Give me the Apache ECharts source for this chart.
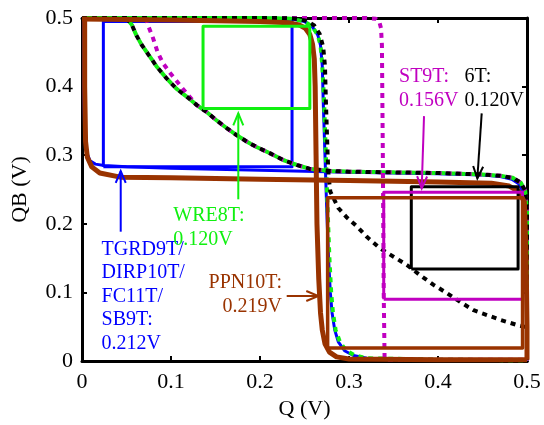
<!DOCTYPE html>
<html>
<head>
<meta charset="utf-8">
<script src="https://cdn.jsdelivr.net/npm/echarts@6/dist/echarts.min.js"></script>
<style>
  html, body { margin: 0; padding: 0; background: #fff; }
  #chart { width: 544px; height: 425px; }
</style>
</head>
<body>
<div id="chart"></div>
<script>
// Axis ticks (volts)
const qTicks = [0, 0.1, 0.2, 0.3, 0.4, 0.5];
const qbTicks = [0, 0.1, 0.2, 0.3, 0.4, 0.5];

// Cell names and their static noise margins (V)
const cellLabels = ['TGRD9T/\nDIRP10T/\nFC11T/\nSB9T:', 'WRE8T:', 'PPN10T:', 'ST9T:', '6T:'];
const snmValues = [0.212, 0.120, 0.219, 0.156, 0.120];
// lower-left corner [Q, QB] of each SNM square
const snmCorners = [[0.024, 0.283], [0.136, 0.368], [0.276, 0.019], [0.339, 0.090], [0.370, 0.134]];

// TGRD9T / DIRP10T / FC11T / SB9T butterfly
const tgrdA = [[0, 0.5], [0.2, 0.5], [0.235, 0.499], [0.25, 0.495], [0.259, 0.487], [0.265, 0.475], [0.268, 0.46], [0.27, 0.43], [0.271, 0.38], [0.273, 0.3], [0.275, 0.22], [0.277, 0.15], [0.279, 0.1], [0.281, 0.07], [0.284, 0.045], [0.288, 0.028], [0.295, 0.015], [0.305, 0.008], [0.32, 0.004], [0.4, 0.002], [0.5, 0.001]];
const tgrdB = [[0.002, 0.5], [0.002, 0.4], [0.003, 0.33], [0.005, 0.305], [0.009, 0.292], [0.015, 0.287], [0.025, 0.285], [0.05, 0.283], [0.1, 0.281], [0.2, 0.278], [0.3, 0.275], [0.4, 0.273], [0.45, 0.271], [0.47, 0.269], [0.483, 0.265], [0.491, 0.258], [0.496, 0.245], [0.498, 0.22], [0.499, 0.15], [0.5, 0.05], [0.5, 0]];

// WRE8T butterfly
const wreA = [[0, 0.5], [0.2, 0.5], [0.235, 0.499], [0.25, 0.495], [0.259, 0.487], [0.265, 0.475], [0.268, 0.46], [0.27, 0.43], [0.272, 0.38], [0.274, 0.3], [0.276, 0.22], [0.278, 0.15], [0.28, 0.1], [0.282, 0.07], [0.285, 0.045], [0.29, 0.027], [0.297, 0.015], [0.307, 0.008], [0.32, 0.004], [0.4, 0.002], [0.5, 0.001]];
const wreB = [[0.05, 0.5], [0.056, 0.49], [0.061, 0.475], [0.067, 0.461], [0.075, 0.446], [0.084, 0.429], [0.095, 0.412], [0.106, 0.397], [0.118, 0.385], [0.129, 0.373], [0.14, 0.363], [0.151, 0.351], [0.163, 0.339], [0.174, 0.329], [0.185, 0.32], [0.196, 0.312], [0.211, 0.303], [0.226, 0.293], [0.241, 0.286], [0.256, 0.28], [0.28, 0.277], [0.3, 0.276], [0.35, 0.275], [0.4, 0.274], [0.45, 0.272], [0.47, 0.27], [0.484, 0.267], [0.493, 0.26], [0.498, 0.248], [0.5, 0.22], [0.5, 0]];

// 6T butterfly
const sixA = [[0, 0.5], [0.22, 0.5], [0.24, 0.499], [0.252, 0.496], [0.261, 0.489], [0.267, 0.477], [0.271, 0.458], [0.273, 0.43], [0.274, 0.38], [0.276, 0.3], [0.277, 0.27], [0.279, 0.247], [0.288, 0.223], [0.297, 0.21], [0.309, 0.196], [0.32, 0.181], [0.335, 0.164], [0.35, 0.152], [0.365, 0.14], [0.38, 0.125], [0.395, 0.111], [0.41, 0.099], [0.425, 0.086], [0.44, 0.074], [0.455, 0.067], [0.47, 0.06], [0.49, 0.052], [0.5, 0.049]];
const sixB = [[0.05, 0.5], [0.056, 0.49], [0.061, 0.475], [0.067, 0.461], [0.075, 0.446], [0.084, 0.429], [0.095, 0.412], [0.106, 0.397], [0.118, 0.385], [0.129, 0.373], [0.14, 0.363], [0.151, 0.351], [0.163, 0.339], [0.174, 0.329], [0.185, 0.32], [0.196, 0.312], [0.211, 0.303], [0.226, 0.293], [0.241, 0.286], [0.256, 0.28], [0.28, 0.277], [0.3, 0.276], [0.35, 0.275], [0.4, 0.274], [0.45, 0.272], [0.47, 0.27], [0.484, 0.267], [0.493, 0.26], [0.498, 0.248], [0.5, 0.22], [0.5, 0]];

// ST9T butterfly
const st9A = [[0, 0.5], [0.32, 0.5], [0.33, 0.499], [0.334, 0.495], [0.336, 0.485], [0.337, 0.46], [0.338, 0.3], [0.339, 0.1], [0.34, 0.002], [0.5, 0.002]];
const st9B = [[0.072, 0.5], [0.074, 0.49], [0.08, 0.47], [0.085, 0.45], [0.091, 0.434], [0.099, 0.42], [0.107, 0.407], [0.117, 0.391], [0.129, 0.373], [0.14, 0.363], [0.151, 0.351], [0.163, 0.339], [0.174, 0.329], [0.185, 0.32], [0.196, 0.312], [0.211, 0.303], [0.226, 0.293], [0.241, 0.286], [0.256, 0.28], [0.28, 0.277], [0.3, 0.276], [0.35, 0.275], [0.4, 0.274], [0.45, 0.272], [0.47, 0.27], [0.484, 0.267], [0.493, 0.26], [0.498, 0.248], [0.5, 0.22], [0.5, 0]];

// PPN10T butterfly
const ppnA = [[0, 0.4985], [0.1, 0.497], [0.2, 0.495], [0.232, 0.493], [0.244, 0.49], [0.251, 0.485], [0.256, 0.476], [0.259, 0.462], [0.261, 0.44], [0.262, 0.4], [0.263, 0.3], [0.264, 0.2], [0.266, 0.12], [0.268, 0.07], [0.27, 0.045], [0.273, 0.025], [0.278, 0.013], [0.286, 0.006], [0.3, 0.003], [0.4, 0.002], [0.5, 0.002]];
const ppnB = [[0.003, 0.4985], [0.003, 0.4], [0.004, 0.32], [0.006, 0.297], [0.011, 0.283], [0.02, 0.274], [0.043, 0.268], [0.1, 0.267], [0.2, 0.265], [0.3, 0.263], [0.4, 0.261], [0.46, 0.259], [0.48, 0.255], [0.491, 0.247], [0.497, 0.232], [0.499, 0.15], [0.5, 0.05], [0.5, 0.002]];

const BLUE = '#0000ff', GREEN = '#10f010', MAGENTA = '#c000c0', BLACK = '#000000', BROWN = '#993300';
const SERIF = '"Liberation Serif", "Times New Roman", serif';

const chart = echarts.init(document.getElementById('chart'), null, { renderer: 'canvas' });

function curve(data, color, width, dash, z, offset) {
  return {
    type: 'line', data: data, symbol: 'none', showSymbol: false, smooth: false,
    clip: false, silent: true, z: z, animation: false,
    lineStyle: { color: color, width: width, type: dash, dashOffset: offset || 0, cap: 'butt', join: 'round' }
  };
}
function square(i) {
  const c = snmCorners[i], s = snmValues[i];
  return [[c[0], c[1]], [c[0] + s, c[1]], [c[0] + s, c[1] + s], [c[0], c[1] + s], [c[0], c[1]]];
}

const DOT = [5, 5];

const axisCommon = {
  type: 'value', min: qTicks[0], max: qTicks[qTicks.length - 1], interval: 0.1,
  splitLine: { show: false },
  axisLine: { show: true, onZero: false, lineStyle: { color: '#000', width: 3 } },
  axisTick: { show: true, inside: true, length: 5, lineStyle: { color: '#000', width: 2 } }
};
const labelStyle = { color: '#000', fontFamily: SERIF, fontSize: 22 };

const option = {
  animation: false,
  backgroundColor: '#fff',
  grid: { left: 82, right: 17, top: 18, bottom: 64 },
  xAxis: [
    Object.assign({}, axisCommon, {
      position: 'bottom', name: 'Q (V)', nameLocation: 'middle', nameGap: 37,
      nameTextStyle: { color: '#000', fontFamily: SERIF, fontSize: 22 },
      axisLabel: Object.assign({ margin: 10, formatter: v => String(v) }, labelStyle)
    }),
    Object.assign({}, axisCommon, { position: 'top', axisLabel: { show: false } })
  ],
  yAxis: [
    Object.assign({}, axisCommon, {
      min: qbTicks[0], max: qbTicks[qbTicks.length - 1],
      position: 'left', name: 'QB (V)', nameLocation: 'middle', nameGap: 51,
      nameTextStyle: { color: '#000', fontFamily: SERIF, fontSize: 22 },
      axisLabel: Object.assign({ margin: 9, formatter: v => String(v) }, labelStyle)
    }),
    Object.assign({}, axisCommon, { min: qbTicks[0], max: qbTicks[qbTicks.length - 1], position: 'right', axisLabel: { show: false } })
  ],
  series: [
    curve(tgrdA, BLUE, 3, 'solid', 2),
    curve(tgrdB, BLUE, 3, 'solid', 2),
    curve(square(0), BLUE, 3, 'solid', 3),
    curve(wreA, GREEN, 4, DOT, 4, 5),
    curve(wreB, GREEN, 4, DOT, 4, 5),
    curve(st9A, MAGENTA, 4, DOT, 5),
    curve(st9B, MAGENTA, 4, DOT, 5),
    curve(sixA, BLACK, 4, DOT, 6),
    curve(sixB, BLACK, 4, DOT, 6),
    curve(ppnA, BROWN, 5, 'solid', 7),
    curve(ppnB, BROWN, 5, 'solid', 7),
    curve(square(1), GREEN, 3, 'solid', 8),
    curve(square(4), BLACK, 3, 'solid', 8),
    curve(square(3), MAGENTA, 3, 'solid', 8),
    curve(square(2), BROWN, 3.5, 'solid', 8)
  ]
};
chart.setOption(option);

// Annotations: label text anchored in data space, arrows pointing at the curves
const notes = [
  { idx: 0, color: BLUE, at: [0.022, 0.180], align: 'left', from: [0.0435, 0.1885], to: [0.0435, 0.277] },
  { idx: 1, color: GREEN, at: [0.1026, 0.2285], align: 'left', from: [0.1756, 0.2357], to: [0.1756, 0.361] },
  { idx: 2, color: BROWN, at: [0.2247, 0.1308], align: 'right', from: [0.230, 0.0948], to: [0.2655, 0.0948] },
  { idx: 3, color: MAGENTA, at: [0.3562, 0.4311], align: 'left', from: [0.3843, 0.357], to: [0.3817, 0.2517] },
  { idx: 4, color: BLACK, at: [0.4298, 0.4311], align: 'left', from: [0.4491, 0.361], to: [0.4442, 0.2663] }
];

function px(p) { return chart.convertToPixel({ xAxisIndex: 0, yAxisIndex: 0 }, p); }

const graphics = [];
notes.forEach(n => {
  const a = px(n.at);
  graphics.push({
    type: 'text', x: a[0], y: a[1], z: 100, silent: true,
    style: {
      text: cellLabels[n.idx] + '\n' + snmValues[n.idx].toFixed(3) + 'V',
      fill: n.color, font: '20px ' + SERIF, align: n.align, verticalAlign: 'top', lineHeight: 23.5
    }
  });
  const p0 = px(n.from), p1 = px(n.to);
  graphics.push({
    type: 'line', z: 100, silent: true,
    shape: { x1: p0[0], y1: p0[1], x2: p1[0], y2: p1[1] },
    style: { stroke: n.color, lineWidth: 2 }
  });
  const dx = p1[0] - p0[0], dy = p1[1] - p0[1];
  const len = Math.sqrt(dx * dx + dy * dy);
  const ux = dx / len, uy = dy / len;
  const hl = 12, hw = 5;
  graphics.push({
    type: 'polyline', z: 100, silent: true,
    shape: { points: [
      [p1[0] - ux * hl - uy * hw, p1[1] - uy * hl + ux * hw],
      [p1[0], p1[1]],
      [p1[0] - ux * hl + uy * hw, p1[1] - uy * hl - ux * hw]
    ] },
    style: { stroke: n.color, lineWidth: 2, fill: null }
  });
});
chart.setOption({ graphic: graphics });
</script>
</body>
</html>
